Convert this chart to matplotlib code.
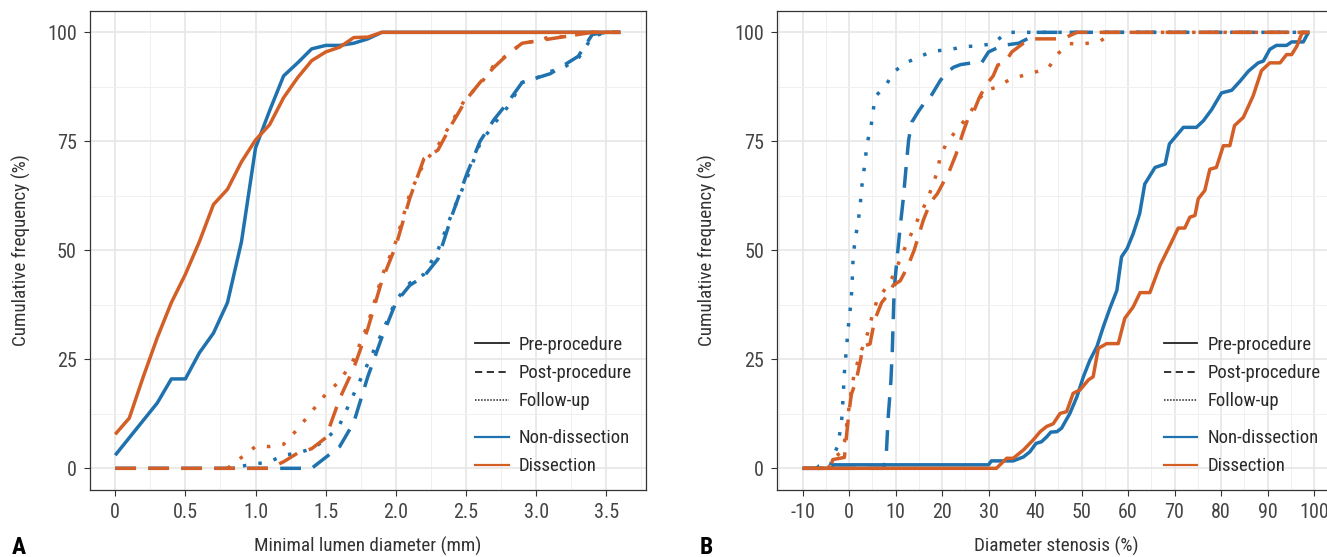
import matplotlib
matplotlib.use("Agg")
import matplotlib.pyplot as plt
from matplotlib.lines import Line2D

plt.rcParams['font.family'] = ['Roboto Condensed', 'Archivo Narrow', 'DejaVu Sans']

blue = '#1F72AE'
orange = '#D35F27'

# ---- panel A: minimal lumen diameter (mm) ----
a_x = [0.0, 0.1, 0.2, 0.3, 0.4, 0.5, 0.6, 0.7, 0.8, 0.9, 1.0, 1.1, 1.2,
       1.3, 1.4, 1.5, 1.6, 1.7, 1.8, 1.9, 2.0, 2.1, 2.2, 2.3, 2.4, 2.5,
       2.6, 2.7, 2.8, 2.9, 3.0, 3.1, 3.2, 3.3, 3.4, 3.5, 3.6]
a_x_fu = a_x[8:]  # follow-up curves start at 0.8 mm

a_pre_nondis = [3, 7, 11, 15, 20.5, 20.5, 26.5, 31, 38, 52, 73.5, 82, 90, 93,
                96.2, 97, 97, 97.5, 98.5, 100, 100, 100, 100, 100, 100, 100,
                100, 100, 100, 100, 100, 100, 100, 100, 100, 100, 100]
a_pre_dis = [7.8, 11.5, 21, 30, 38, 44.5, 52, 60.5, 64, 70.3, 75.3, 78.8, 85,
             89.6, 93.5, 95.5, 96.6, 98.8, 98.9, 100, 100, 100, 100, 100, 100,
             100, 100, 100, 100, 100, 100, 100, 100, 100, 100, 100, 100]
a_post_nondis = [0, 0, 0, 0, 0, 0, 0, 0, 0, 0, 0, 0, 0, 0, 0, 2.5, 5, 10.5,
                 21, 30, 38, 42, 44, 48, 58, 67, 75, 80, 84, 88.5, 89.5, 90.5,
                 92.5, 94.5, 99.5, 100, 100]
a_post_dis = [0, 0, 0, 0, 0, 0, 0, 0, 0, 0, 0, 0, 1.5, 3.5, 4.5, 7, 16, 23,
              32, 43, 51, 62, 71, 73, 79, 84.5, 88.5, 92, 95, 97.5, 98, 98.5,
              99, 99.5, 100, 100, 100]
a_fu_nondis = [0, 0.5, 1, 1.5, 3, 3.5, 4.5, 6.5, 10, 17, 24, 31, 38.5, 42.5,
               44.5, 50, 58.5, 66, 74.5, 79, 83, 88.5, 89.5, 91, 92, 94, 99,
               100, 100]
a_fu_dis = [0, 2.5, 5, 5, 5.5, 9, 13, 17, 20, 25, 33, 44, 52, 63, 70, 74,
            79.5, 85, 88, 92.5, 95, 97.5, 98, 99, 99, 99.5, 100, 100, 100]

# ---- panel B: diameter stenosis (%), (x, y) pairs ----
b_pre_nondis = [(-10, 0), (-3.5, 0), (-3.4, 0.8), (30.0, 0.8), (30.6, 1.7),
                (35.3, 1.7), (37.5, 2.6), (38.9, 3.8), (40.2, 5.7), (41.4, 6.1),
                (42.5, 7.2), (43.4, 8.3), (44.7, 8.4), (45.7, 9.2), (47.5, 12.6),
                (49.0, 16.4), (50.4, 21.0), (51.8, 24.8), (53.3, 27.9),
                (54.7, 32.5), (56.1, 36.7), (57.6, 40.8), (58.6, 48.5),
                (59.8, 50.4), (61.1, 53.8), (62.5, 58.4), (63.6, 65.2),
                (65.8, 69.0), (68.0, 69.8), (68.9, 74.4), (71.9, 78.2),
                (74.7, 78.2), (76.2, 79.7), (78.0, 82.3), (80.1, 86.1),
                (82.3, 86.7), (84.1, 88.8), (85.9, 91.1), (88.0, 93.0),
                (89.1, 93.4), (90.5, 96.1), (91.9, 97.0), (94.1, 97.0),
                (95.2, 97.8), (97.7, 97.8), (98.8, 100)]
b_pre_dis = [(-10, 0), (31.7, 0), (33.9, 2.3), (35.3, 2.3), (37.5, 4.2),
             (39.6, 6.5), (41.1, 8.4), (42.5, 9.6), (43.9, 10.2), (45.4, 12.6),
             (46.8, 13.0), (48.2, 17.2), (49.7, 18.0), (51.5, 20.3), (52.5, 21.0),
             (53.6, 27.5), (55.4, 28.6), (57.9, 28.6), (59.3, 34.4), (61.1, 37.0),
             (62.6, 40.3), (64.7, 40.3), (66.9, 46.6), (69.0, 51.1), (70.8, 55.1),
             (72.2, 55.1), (73.3, 57.6), (74.4, 58.0), (75.1, 61.8), (76.5, 63.7),
             (77.6, 68.6), (79.0, 69.0), (80.5, 74.0), (81.9, 74.0), (82.9, 78.6),
             (84.8, 80.5), (86.9, 85.4), (88.7, 91.2), (90.5, 93.0), (92.7, 93.0),
             (94.1, 94.9), (95.2, 94.9), (96.3, 96.8), (97.4, 99.8), (98.8, 100)]
b_post_nondis = [(-10, 0), (7.5, 0), (8.0, 3.0), (8.4, 11.5), (9.0, 20.0),
                 (9.3, 27.0), (9.5, 34.0), (9.7, 41.0), (10.4, 49.0), (11.0, 55.4),
                 (11.7, 62.2), (12.2, 68.3), (12.8, 75.2), (13.5, 79.4),
                 (15.0, 82.0), (16.0, 83.5), (17.4, 85.0), (19.6, 88.9),
                 (21.0, 90.8), (22.5, 92.0), (24.0, 92.6), (26.5, 93.0),
                 (28.5, 93.0), (30.0, 95.5), (33.0, 97.0), (36.5, 97.5),
                 (38.5, 98.6), (39.6, 100), (99, 100)]
b_post_dis = [(-10, 0), (-4.0, 0), (-3.5, 2.0), (-1.0, 2.5), (-0.5, 8.0),
              (0.0, 13.0), (0.5, 17.0), (1.5, 20.0), (2.5, 25.0), (3.0, 28.0),
              (4.5, 28.5), (5.5, 34.0), (7.0, 38.0), (8.5, 40.0), (9.5, 42.0),
              (11.0, 43.0), (12.5, 46.0), (14.0, 50.0), (16.0, 57.0),
              (17.5, 61.0), (19.0, 63.0), (20.5, 66.0), (21.5, 68.0),
              (23.0, 72.0), (24.5, 77.0), (25.5, 80.0), (26.5, 81.0),
              (28.0, 85.0), (29.5, 88.0), (31.0, 90.0), (32.0, 92.5),
              (33.5, 93.0), (35.0, 95.5), (37.5, 97.5), (39.5, 98.5),
              (46.0, 98.5), (49.0, 100), (99, 100)]
b_fu_nondis = [(-7.0, 0), (-6.5, 0.5), (-4.0, 0.5), (-3.7, 2.0), (-2.5, 5.0),
               (-2.0, 8.0), (-1.5, 12.0), (-1.2, 18.0), (-1.0, 22.0),
               (-0.6, 27.0), (-0.2, 32.0), (0.3, 37.0), (0.6, 41.0), (0.9, 49.0),
               (1.4, 53.0), (1.9, 56.3), (2.4, 60.0), (2.6, 63.6), (3.1, 67.4),
               (3.5, 71.0), (3.9, 74.6), (4.7, 78.2), (5.6, 85.2), (8.0, 88.0),
               (9.7, 91.0), (12.2, 93.0), (15.1, 94.4), (18.1, 95.7),
               (21.5, 96.0), (24.6, 96.7), (27.9, 96.9), (31.0, 97.4),
               (33.9, 100), (99, 100)]
b_fu_dis = [(-4.5, 0), (-3.5, 2.0), (-2.0, 3.5), (-1.0, 6.0), (-0.5, 10.0),
            (0.0, 14.0), (0.5, 18.0), (1.0, 21.0), (2.0, 25.0), (3.0, 28.0),
            (4.0, 31.0), (5.0, 35.0), (6.0, 38.5), (8.0, 41.5), (9.7, 44.5),
            (11.0, 48.0), (12.4, 51.5), (13.9, 55.0), (15.3, 58.3),
            (16.7, 61.3), (17.8, 64.4), (18.9, 67.8), (19.6, 71.4),
            (21.0, 74.7), (23.1, 77.5), (25.3, 80.4), (26.7, 82.7),
            (27.8, 84.3), (29.3, 86.7), (31.4, 87.3), (34.3, 89.0),
            (37.1, 90.0), (40.4, 91.0), (43.0, 92.0), (44.8, 95.0),
            (47.4, 97.4), (50.8, 97.4), (54.0, 98.0), (57.0, 100), (99, 100)]

a_ticks = [0, 0.5, 1.0, 1.5, 2.0, 2.5, 3.0, 3.5]
a_ticklabels = ['0', '0.5', '1.0', '1.5', '2.0', '2.5', '3.0', '3.5']
b_ticks = [-10, 0, 10, 20, 30, 40, 50, 60, 70, 80, 90, 100]
b_ticklabels = ['-10', '0', '10', '20', '30', '40', '50', '60', '70', '80', '90', '100']

solid = '-'
dashed = (0, (6, 3.5))
dotted = (0, (1, 3.5))
lw = 2.5


def line(ax, x, y, color, ls):
    ax.plot(x, y, color=color, ls=ls, lw=lw, dash_capstyle='butt',
            solid_capstyle='butt', solid_joinstyle='round')


def pairs(ax, data, color, ls):
    line(ax, [p[0] for p in data], [p[1] for p in data], color, ls)


def style(ax, ticks, labels, minor, xlim, xlabel, ylab_x):
    ax.set_xlim(xlim)
    ax.set_ylim(-5, 105)
    ax.set_xticks(ticks)
    ax.set_xticklabels(labels)
    ax.set_xticks(minor, minor=True)
    ax.set_yticks([0, 25, 50, 75, 100])
    ax.set_yticks([12.5, 37.5, 62.5, 87.5], minor=True)
    ax.grid(which='major', color='#E6E6E6', lw=1.2)
    ax.grid(which='minor', color='#F0F0F0', lw=0.7)
    ax.set_axisbelow(True)
    ax.tick_params(which='minor', length=0)
    ax.tick_params(which='major', length=4, width=0.8, color='#333333',
                   labelsize=14.5, labelcolor='#444444', pad=5.5)
    for s in ax.spines.values():
        s.set_color('#333333')
        s.set_linewidth(0.9)
    ax.set_xlabel(xlabel, fontsize=13.8, color='#333333')
    ax.set_ylabel('Cumulative frequency (%)', fontsize=13.8, color='#333333')
    ax.xaxis.set_label_coords(0.5, -0.098)
    ax.yaxis.set_label_coords(ylab_x, 0.5)

    # line-type legend and group legend, both without frame
    type_handles = [Line2D([], [], color='#222222', lw=1.3, ls='-'),
                    Line2D([], [], color='#222222', lw=1.3, ls=(0, (4, 2.5))),
                    Line2D([], [], color='#222222', lw=1.1, ls=(0, (1, 1)))]
    leg1 = ax.legend(type_handles, ['Pre-procedure', 'Post-procedure', 'Follow-up'],
                     loc='center left', bbox_to_anchor=(0.693, 0.244),
                     frameon=False, fontsize=13.5, handlelength=1.8,
                     handletextpad=0.53, labelspacing=0.55, borderpad=0,
                     borderaxespad=0, labelcolor='#2a2a2a')
    ax.add_artist(leg1)
    col_handles = [Line2D([], [], color=blue, lw=1.6),
                   Line2D([], [], color=orange, lw=1.6)]
    ax.legend(col_handles, ['Non-dissection', 'Dissection'],
              loc='center left', bbox_to_anchor=(0.693, 0.079),
              frameon=False, fontsize=13.5, handlelength=1.8,
              handletextpad=0.53, labelspacing=0.52, borderpad=0,
              borderaxespad=0, labelcolor='#2a2a2a')


fig = plt.figure(figsize=(13.27, 5.57), dpi=100)
ax_a = fig.add_axes([0.0678, 0.1201, 0.4187, 0.861])
ax_b = fig.add_axes([0.5857, 0.1201, 0.4201, 0.861])

# panel A
line(ax_a, a_x, a_pre_nondis, blue, solid)
line(ax_a, a_x, a_post_nondis, blue, dashed)
line(ax_a, a_x_fu, a_fu_nondis, blue, dotted)
line(ax_a, a_x, a_pre_dis, orange, solid)
line(ax_a, a_x, a_post_dis, orange, dashed)
line(ax_a, a_x_fu, a_fu_dis, orange, dotted)
style(ax_a, a_ticks, a_ticklabels,
      [0.25, 0.75, 1.25, 1.75, 2.25, 2.75, 3.25, 3.75],
      (-0.18, 3.78), 'Minimal lumen diameter (mm)', -0.106)

# panel B
pairs(ax_b, b_pre_nondis, blue, solid)
pairs(ax_b, b_post_nondis, blue, dashed)
pairs(ax_b, b_fu_nondis, blue, dotted)
pairs(ax_b, b_pre_dis, orange, solid)
pairs(ax_b, b_post_dis, orange, dashed)
pairs(ax_b, b_fu_dis, orange, dotted)
style(ax_b, b_ticks, b_ticklabels,
      [-15, -5, 5, 15, 25, 35, 45, 55, 65, 75, 85, 95],
      (-15.45, 104.45), 'Diameter stenosis (%)', -0.108)

fig.text(0.009, 0.038, 'A', fontsize=17, fontweight='bold', va='top')
fig.text(0.527, 0.038, 'B', fontsize=17, fontweight='bold', va='top')

fig.savefig('out.png', dpi=100)
